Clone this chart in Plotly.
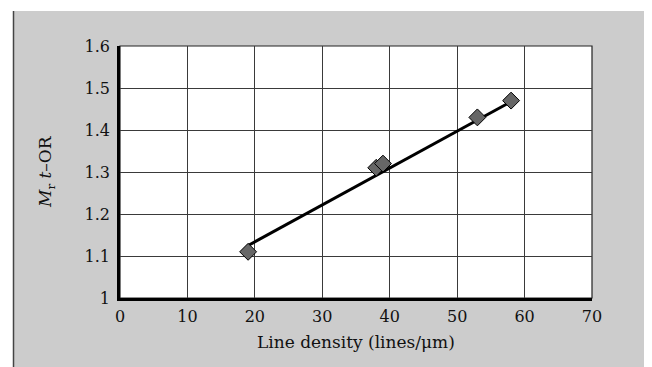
import plotly.graph_objects as go

# Data
line_density = [19, 38, 39, 53, 58]
mrt_or = [1.11, 1.31, 1.32, 1.43, 1.47]
trend_x = [19, 57.5]
trend_y = [1.125, 1.463]
x_ticks = [0, 10, 20, 30, 40, 50, 60, 70]
y_ticks = [1.0, 1.1, 1.2, 1.3, 1.4, 1.5, 1.6]
y_tick_labels = ["1", "1.1", "1.2", "1.3", "1.4", "1.5", "1.6"]

FONT = "DejaVu Serif"
TXT = "#111111"

fig = go.Figure()
fig.add_trace(go.Scatter(x=trend_x, y=trend_y, mode="lines",
                         line=dict(color="black", width=3), showlegend=False))
fig.add_trace(go.Scatter(x=line_density, y=mrt_or, mode="markers",
                         marker=dict(symbol="diamond", size=13, color="#666666",
                                     line=dict(color="black", width=1)),
                         showlegend=False))

# page body has an 8px margin: shift everything up/left by 8 px
OFF = 8
W, H = 652, 367
L, T = 120 - OFF, 46 - OFF
R = W - (592 - OFF)
B = H - (298 - OFF)
pw, ph = W - L - R, H - T - B


def px(x):
    return (x - OFF - L) / pw


def py(y):
    return (H - B - (y - OFF)) / ph


shapes = [
    dict(type="rect", xref="paper", yref="paper", x0=px(-20), x1=px(13), y0=py(-20), y1=py(390),
         fillcolor="white", line=dict(width=0), layer="above"),
    dict(type="rect", xref="paper", yref="paper", x0=px(-20), x1=px(680), y0=py(11), y1=py(-20),
         fillcolor="white", line=dict(width=0), layer="above"),
    dict(type="rect", xref="paper", yref="paper", x0=px(649), x1=px(680), y0=py(-20), y1=py(390),
         fillcolor="white", line=dict(width=0), layer="above"),
    dict(type="line", xref="paper", yref="paper", x0=px(13.5), x1=px(13.5), y0=py(11), y1=py(390),
         line=dict(color="#444444", width=1.5), layer="above"),
    dict(type="line", xref="paper", yref="paper", x0=px(648.5), x1=px(648.5), y0=py(11), y1=py(390),
         line=dict(color="#444444", width=1.5), layer="above"),
    dict(type="rect", xref="paper", yref="paper", x0=0, x1=1, y0=0, y1=1,
         line=dict(color="#222222", width=1.2), layer="below"),
]

annotations = [
    dict(text="Line density (lines/μm)", xref="paper", yref="paper",
         x=px(356), y=py(342), xanchor="center", yanchor="middle", showarrow=False,
         font=dict(family=FONT, size=17, color=TXT)),
    dict(text="<i>M</i><sub>r</sub> <i>t</i>–OR", xref="paper", yref="paper",
         x=px(46), y=py(172), xanchor="center", yanchor="middle", showarrow=False,
         textangle=-90, font=dict(family=FONT, size=17, color=TXT)),
]

fig.update_layout(
    width=W, height=H,
    margin=dict(l=L, r=R, t=T, b=B, pad=0),
    paper_bgcolor="#cccccc",
    plot_bgcolor="white",
    font=dict(family=FONT, size=16, color=TXT),
    shapes=shapes,
    annotations=annotations,
    xaxis=dict(range=[0, 70], tickvals=x_ticks, ticktext=[str(v) for v in x_ticks],
               showgrid=True, gridcolor="#3a3a3a", gridwidth=1,
               showline=True, linecolor="black", linewidth=2.5,
               ticks="outside", ticklen=2, tickcolor="rgba(0,0,0,0)",
               zeroline=False),
    yaxis=dict(range=[1, 1.6], tickvals=y_ticks, ticktext=y_tick_labels,
               showgrid=True, gridcolor="#3a3a3a", gridwidth=1,
               showline=True, linecolor="black", linewidth=2.5,
               ticks="outside", ticklen=4, tickcolor="rgba(0,0,0,0)",
               zeroline=False),
)

fig.write_html("out.html")
